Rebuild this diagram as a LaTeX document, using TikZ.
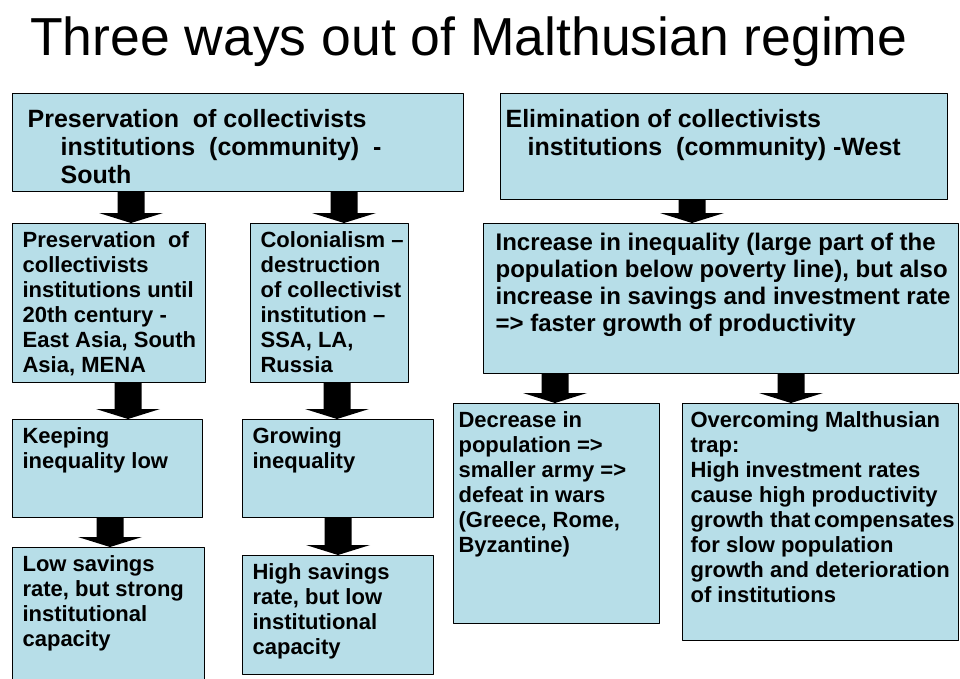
\documentclass[tikz,border=0pt]{standalone}
\usepackage{fontspec}
\setmainfont{Liberation Sans}
\usepackage{tikz}
\usetikzlibrary{calc}
\definecolor{boxblue}{HTML}{B7DEE8}
\tikzstyle{every path}=[line cap=round,line join=round]
\tikzstyle{cbox}=[draw=black,fill=boxblue,line width=1.2pt,anchor=north west,inner xsep=10pt,inner ysep=6pt,font=\bfseries\fontsize{22}{25}\selectfont]
\tikzstyle{bigbox}=[cbox,inner ysep=14pt,font=\bfseries\fontsize{25}{28}\selectfont]
\newcommand{\boxtext}[3]{\parbox[t][#2pt][t]{#1pt}{\begin{tabular}[t]{@{}l@{}}#3\end{tabular}}}
% block arrow from the bottom of #1 to the top of #2, at x = #3
\newcommand{\blockarrow}[3]{%
  \fill[black] let \p1=(#1.south), \p2=(#2.north) in
    (#3-13.5,\y1) -- (#3+13.5,\y1) -- (#3+13.5,\y2+10pt) -- (#3+32,\y2+10pt)
    -- (#3,\y2) -- (#3-32,\y2+10pt) -- (#3-13.5,\y2+10pt) -- cycle;}
\begin{document}
\begin{tikzpicture}[x=1pt,y=-1pt]
\useasboundingbox (0,0) rectangle (960,678);
\node[anchor=base west,inner sep=0pt,font=\fontsize{53.5}{60}\selectfont] (title) at (30,55) {Three ways out of Malthusian regime};

% top row
\node[bigbox,inner xsep=15pt] (south) at (12,93) {\boxtext{421}{70}{Preservation~ of collectivists\\\hspace*{33pt}institutions~ (community)~ -\\\hspace*{33pt}South}};
\node[bigbox,inner xsep=5pt] (west) at (500,93) {\boxtext{437}{78}{Elimination of collectivists\\\hspace*{22pt}institutions~ (community) -West}};

% second row
\node[cbox] (pres) at (12,223) {\boxtext{173}{147}{Preservation~ of\\collectivists\\institutions until\\20th century -\\East Asia, South\\Asia, MENA}};
\node[cbox] (colon) at (250,223) {\boxtext{138}{147}{Colonialism –\\destruction\\of collectivist\\institution –\\SSA, LA,\\Russia}};
\node[cbox,inner xsep=12pt,inner ysep=7.5pt,font=\bfseries\fontsize{24}{27}\selectfont] (ineq) at (483,223) {\boxtext{451}{135}{Increase in inequality (large part of the\\population below poverty line), but also\\increase in savings and investment rate\\=> faster growth of productivity}};

% third row
\node[cbox] (keep) at (12,419) {\boxtext{170}{86}{Keeping\\inequality low}};
\node[cbox] (grow) at (242,419) {\boxtext{171}{86}{Growing\\inequality}};
\node[cbox,inner xsep=5pt] (decr) at (453,403) {\boxtext{196}{208}{Decrease in\\population =>\\smaller army =>\\defeat in wars\\(Greece, Rome,\\Byzantine)}};
\node[cbox,inner xsep=8pt] (over) at (682,403) {\boxtext{260}{225}{Overcoming Malthusian\\trap:\\High investment rates\\cause high productivity\\growth that\,compensates\\for slow population\\growth and deterioration\\of institutions}};

% bottom row
\node[cbox] (lows) at (12,547) {\boxtext{172}{128}{Low savings\\rate, but strong\\institutional\\capacity}};
\node[cbox] (highs) at (242,555) {\boxtext{171}{107}{High savings\\rate, but low\\institutional\\capacity}};

% arrows
\blockarrow{south}{pres}{131}
\blockarrow{south}{colon}{344}
\blockarrow{pres}{keep}{128}
\blockarrow{colon}{grow}{337}
\blockarrow{keep}{lows}{110}
\blockarrow{grow}{highs}{338}
\blockarrow{west}{ineq}{692}
\blockarrow{ineq}{decr}{555}
\blockarrow{ineq}{over}{791}
\end{tikzpicture}
\end{document}
